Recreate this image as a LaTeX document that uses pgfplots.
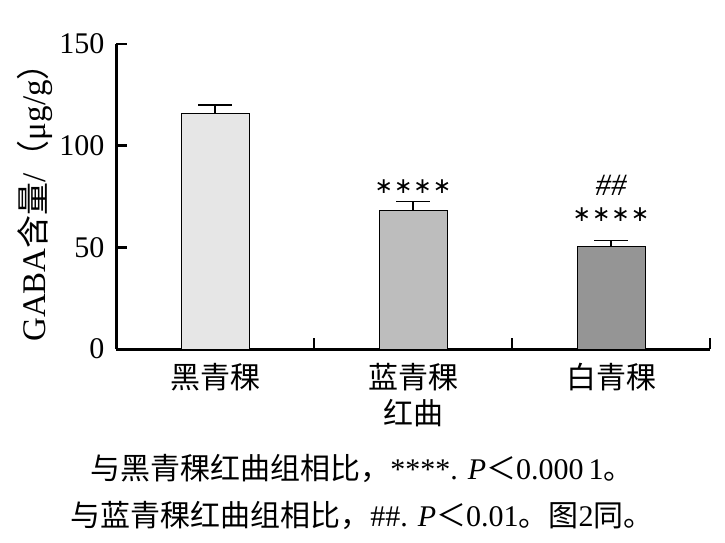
\documentclass[border=0pt]{standalone}
\usepackage{pgfplots}
\pgfplotsset{compat=1.18}
\usepackage{fontspec}
\setmainfont{Liberation Serif}
\newfontfamily\cjk{Noto Sans CJK SC}
\newfontfamily\djv{DejaVu Sans}
\definecolor{barA}{HTML}{E6E6E6}
\definecolor{barB}{HTML}{BDBDBD}
\definecolor{barC}{HTML}{959595}
\begin{document}
\begin{tikzpicture}
\useasboundingbox (0,0) rectangle (725pt,542pt);
\begin{axis}[
  at={(116pt,193pt)}, anchor=south west,
  scale only axis, width=594pt, height=305pt,
  xmin=0, xmax=3, ymin=0, ymax=150,
  axis x line=bottom, axis y line=left,
  axis line style={-, line width=3pt},
  tick align=inside, major tick length=11pt,
  every tick/.style={black, line width=2.5pt},
  xtick={1,2,3}, xticklabels={,,},
  extra x ticks={0.5,1.5,2.5},
  extra x tick labels={黑青稞,蓝青稞\\红曲,白青稞},
  extra x tick style={major tick length=0pt, tick label style={align=center, font=\fontsize{30}{36}\selectfont\cjk, yshift=-11pt}},
  ytick={0,50,100,150},
  /pgf/number format/assume math mode=true,
  yticklabel style={font=\fontsize{30}{34}\selectfont, xshift=-8pt},
  ylabel={GABA{\cjk 含量}/{\cjk （}μg/g{\cjk ）}},
  ylabel style={font=\fontsize{33}{38}\selectfont, xshift=2pt},
  clip=false,
]
\addplot[ybar, bar shift=0pt, bar width=68pt, fill=barA, draw=black, line width=0.8pt,
  error bars/.cd, y dir=plus, y explicit, error bar style={black, line width=1.2pt},
  error mark options={black, rotate=90, mark size=17pt, line width=1.2pt}]
  coordinates {(0.5,116) +- (0,4)};
\addplot[ybar, bar shift=0pt, bar width=68pt, fill=barB, draw=black, line width=0.8pt,
  error bars/.cd, y dir=plus, y explicit, error bar style={black, line width=1.2pt},
  error mark options={black, rotate=90, mark size=17pt, line width=1.2pt}]
  coordinates {(1.5,68.3) +- (0,4.2)};
\addplot[ybar, bar shift=0pt, bar width=68pt, fill=barC, draw=black, line width=0.8pt,
  error bars/.cd, y dir=plus, y explicit, error bar style={black, line width=1.2pt},
  error mark options={black, rotate=90, mark size=17pt, line width=1.2pt}]
  coordinates {(2.5,50.7) +- (0,2.5)};
\node[font=\fontsize{22}{26}\selectfont\djv] at (axis cs:1.5,80) {∗\kern1pt∗\kern1pt∗\kern1pt∗};
\node[font=\fontsize{22}{26}\selectfont\djv] at (axis cs:2.5,66) {∗\kern1pt∗\kern1pt∗\kern1pt∗};
\node[font=\fontsize{31}{36}\selectfont\itshape] at (axis cs:2.5,80.5) {\#\#};
\end{axis}
\node[font=\fontsize{30}{36}\selectfont] at (362pt,74pt) {{\cjk 与黑青稞红曲组相比，}****. \textit{P}{\cjk ＜}0.000\,1{\cjk 。}};
\node[font=\fontsize{30}{36}\selectfont] at (362pt,27pt) {{\cjk 与蓝青稞红曲组相比，}\#\#. \textit{P}{\cjk ＜}0.01{\cjk 。图}2{\cjk 同。}};
\end{tikzpicture}
\end{document}
